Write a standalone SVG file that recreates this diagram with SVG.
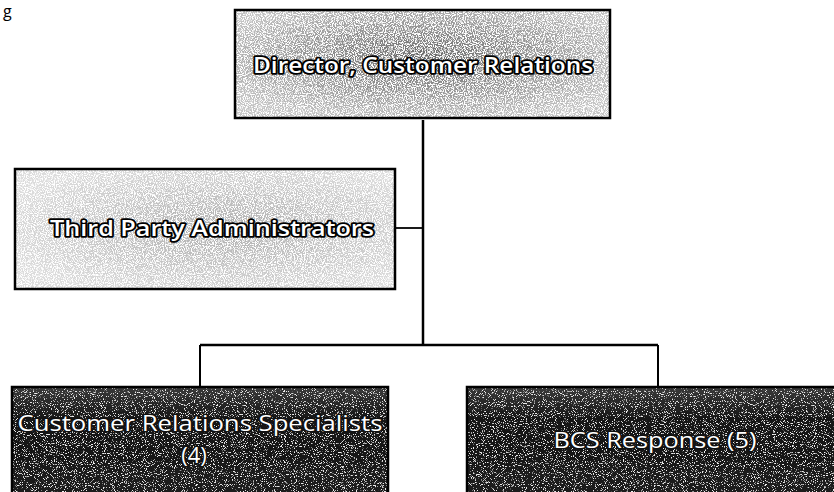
<svg xmlns="http://www.w3.org/2000/svg" width="834" height="492" viewBox="0 0 834 492">
<style>
.box{stroke:#000;stroke-width:2.5;fill:none}
.lbl{font-family:"Open Sans","Liberation Sans",sans-serif;font-size:22px;fill:#fff;text-anchor:middle}
.out{stroke:#000;stroke-width:3.5;paint-order:stroke;stroke-linejoin:round;font-weight:600}
.dk{stroke:#111;stroke-width:3;paint-order:stroke;stroke-linejoin:round}
.conn{stroke:#000;fill:none;stroke-width:2.5}
.frag{font-family:"Open Sans","Liberation Sans",sans-serif;font-size:16px;fill:#000}
</style>
<defs>
<radialGradient id="gTop" cx="0.5" cy="0.45" r="0.6">
<stop offset="0" stop-color="#666"/>
<stop offset="1" stop-color="#c4c4c4"/>
</radialGradient>
<radialGradient id="gMid" cx="0.55" cy="0.5" r="0.6">
<stop offset="0" stop-color="#adadad"/>
<stop offset="1" stop-color="#dcdcdc"/>
</radialGradient>
<linearGradient id="gDark" x1="0" y1="0" x2="0" y2="1">
<stop offset="0" stop-color="#3a3a3a"/>
<stop offset="0.3" stop-color="#161616"/>
<stop offset="1" stop-color="#1c1c1c"/>
</linearGradient>
<filter id="speckL" x="0" y="0" width="1" height="1">
<feTurbulence type="fractalNoise" baseFrequency="0.9" numOctaves="2" seed="3" result="n"/>
<feColorMatrix in="n" type="matrix" values="0 0 0 0 1  0 0 0 0 1  0 0 0 0 1  -6 0 0 0 3.3" result="w"/>
<feComposite in="w" in2="SourceGraphic" operator="in" result="wm"/>
<feMerge><feMergeNode in="SourceGraphic"/><feMergeNode in="wm"/></feMerge>
</filter>
<filter id="speckD" x="0" y="0" width="1" height="1">
<feTurbulence type="fractalNoise" baseFrequency="0.9" numOctaves="2" seed="7" result="n"/>
<feColorMatrix in="n" type="matrix" values="0 0 0 0 0.85  0 0 0 0 0.85  0 0 0 0 0.85  -9 0 0 0 3.7" result="w"/>
<feComposite in="w" in2="SourceGraphic" operator="in" result="wm"/>
<feMerge><feMergeNode in="SourceGraphic"/><feMergeNode in="wm"/></feMerge>
</filter>
</defs>
<text class="frag" x="3" y="17">g</text>
<g id="connectors">
<path class="conn" d="M423 120 V345"/>
<path class="conn" d="M395 228 H423" style="stroke-width:1.8"/>
<path class="conn" d="M200 345 H658"/>
<path class="conn" d="M200 345 V387" style="stroke-width:2"/>
<path class="conn" d="M658 345 V387" style="stroke-width:2"/>
</g>
<g id="director">
<rect x="235" y="10" width="375" height="108" fill="url(#gTop)" filter="url(#speckL)"/>
<rect class="box" x="235" y="10" width="375" height="108"/>
<text class="lbl out" x="423" y="73" textLength="340" lengthAdjust="spacingAndGlyphs">Director, Customer Relations</text>
</g>
<g id="tpa">
<rect x="15" y="169" width="380" height="120" fill="url(#gMid)" filter="url(#speckL)"/>
<rect class="box" x="15" y="169" width="380" height="120"/>
<text class="lbl out" x="212" y="236" textLength="324" lengthAdjust="spacingAndGlyphs">Third Party Administrators</text>
</g>
<g id="crs">
<rect x="12" y="387" width="376" height="110" fill="url(#gDark)" filter="url(#speckD)"/>
<rect class="box" x="12" y="387" width="376" height="110"/>
<text class="lbl dk" x="200" y="431" textLength="365" lengthAdjust="spacingAndGlyphs">Customer Relations Specialists</text>
<text class="lbl dk" x="194" y="463">(4)</text>
</g>
<g id="bcs">
<rect x="467" y="387" width="380" height="110" fill="url(#gDark)" filter="url(#speckD)"/>
<rect class="box" x="467" y="387" width="380" height="110"/>
<text class="lbl dk" x="655" y="448" textLength="203" lengthAdjust="spacingAndGlyphs">BCS Response (5)</text>
</g>
</svg>
